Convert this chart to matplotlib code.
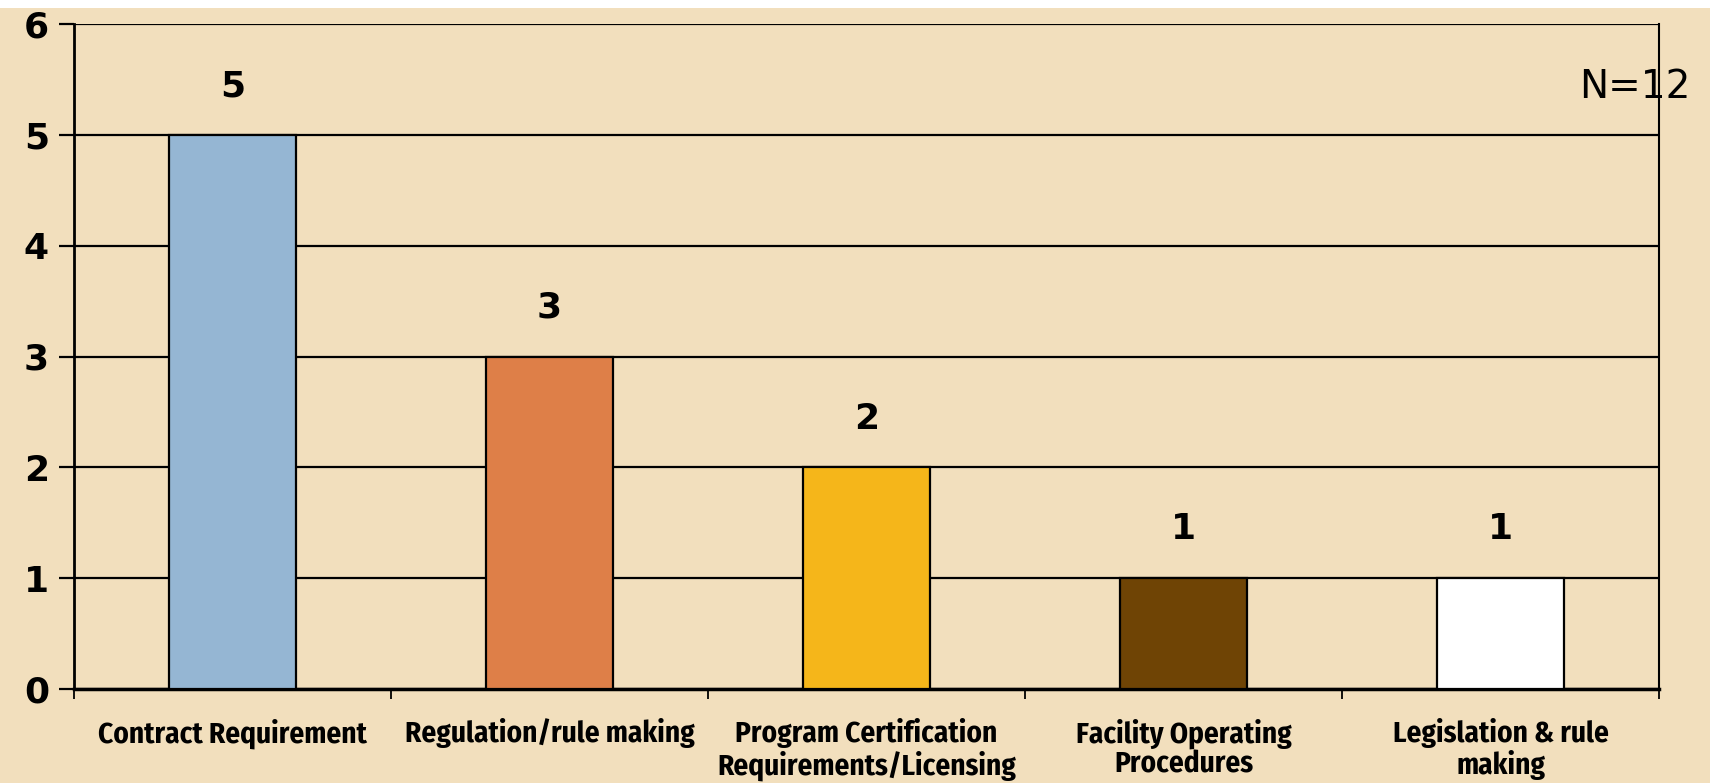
import matplotlib.pyplot as plt
import numpy as np
from matplotlib.patches import Rectangle

categories = ["Contract Requirement", "Regulation/rule making",
              "Program Certification\nRequirements/Licensing",
              "Facility Operating\nProcedures", "Legislation & rule\nmaking"]
counts = [5, 3, 2, 1, 1]
bar_colors = ["#95B6D3", "#DE7F48", "#F5B61A", "#6F4405", "#FFFFFF"]
yticks = [0, 1, 2, 3, 4, 5, 6]
n_label = "N=12"

bg = "#F2DFBD"
label_font = ["Fira Sans Condensed", "DejaVu Sans"]

fig = plt.figure(figsize=(17.1, 7.83), dpi=100, facecolor=bg)
# thin white strip along the top edge
fig.patches.append(Rectangle((0, 1 - 8 / 783), 1, 8 / 783, transform=fig.transFigure,
                             facecolor="white", edgecolor="none", zorder=0))

ax = fig.add_axes([74 / 1710, 1 - 689 / 783, (1659 - 74) / 1710, (689 - 24) / 783])
ax.set_facecolor(bg)

x = np.arange(len(categories))
ax.set_axisbelow(True)
ax.yaxis.grid(True, color="black", linewidth=1.6)
ax.bar(x, counts, width=0.4, color=bar_colors, edgecolor="black", linewidth=1.6, zorder=3)

for xi, v in zip(x, counts):
    ax.text(xi, v + 0.44, str(v), ha="center", va="center", fontsize=26,
            fontweight="bold", family="DejaVu Sans")

ax.set_xlim(-0.5, len(categories) - 0.5)
ax.set_ylim(0, 6)
ax.set_yticks(yticks)
ax.set_yticklabels([str(t) for t in yticks], fontsize=26, fontweight="bold",
                   family="DejaVu Sans")
ax.tick_params(axis="y", length=11, width=1.6, pad=7, direction="out")

ax.set_xticks(x)
ax.set_xticklabels(categories, fontsize=21, fontweight="bold",
                   family=label_font, linespacing=1.1)
ax.tick_params(axis="x", which="major", length=0, pad=21)
ax.set_xticks(np.arange(-0.5, len(categories)), minor=True)
ax.tick_params(axis="x", which="minor", length=7, width=1.3, direction="out")

ax.spines["top"].set_visible(False)
ax.spines["left"].set_linewidth(2)
ax.spines["bottom"].set_linewidth(2.5)
ax.spines["right"].set_linewidth(1.5)

fig.text(1635 / 1710, 1 - 87 / 783, n_label, ha="center", va="center", fontsize=28,
         family="DejaVu Sans")

fig.savefig("out.png", dpi=100, facecolor=bg)
